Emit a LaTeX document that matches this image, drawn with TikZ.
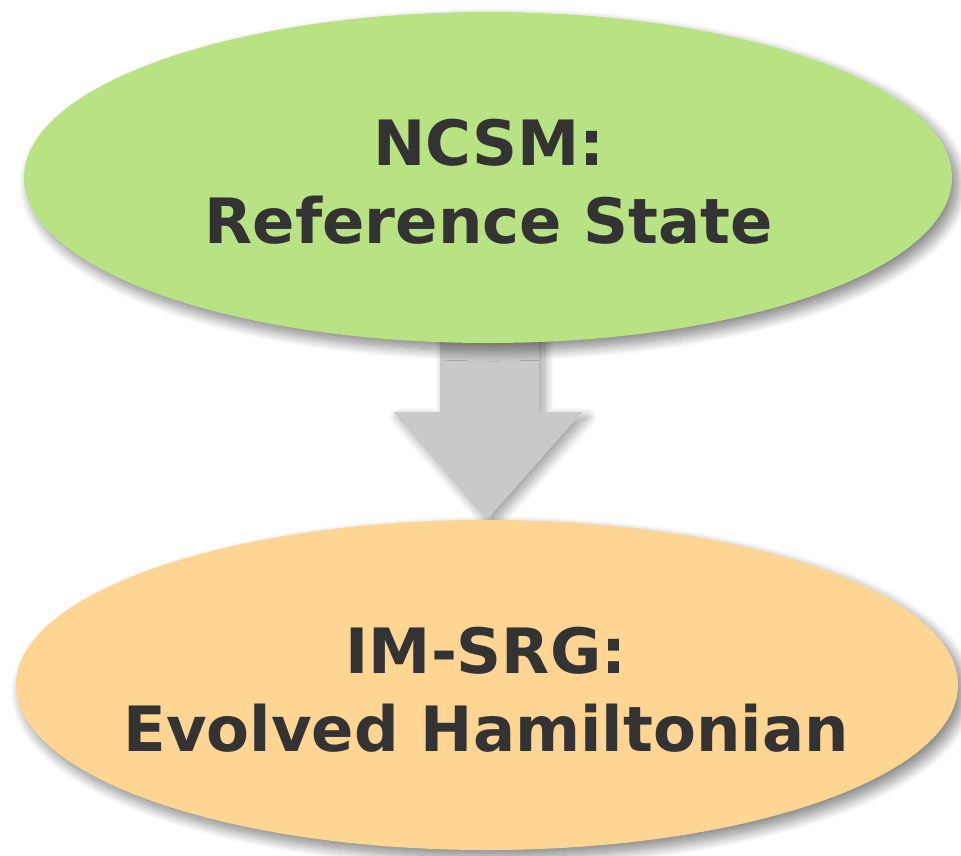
\documentclass[tikz,border=0pt]{standalone}
\usepackage{fontspec}
\setmainfont{DejaVu Sans}
\usetikzlibrary{shapes.geometric,shadows.blur,calc}
\definecolor{topgreen}{HTML}{B9E383}
\definecolor{botorange}{HTML}{FED592}
\definecolor{arrowgrey}{HTML}{C9C9C9}
\definecolor{txt}{HTML}{333333}
\pgfdeclarelayer{background}
\pgfsetlayers{background,main}
\tikzset{
  bubble/.style={ellipse, inner sep=0pt,
    blur shadow={shadow xshift=6pt, shadow yshift=-7pt, shadow blur radius=11pt, shadow blur steps=20, shadow opacity=50}},
  label/.style={align=center, text=txt, inner sep=0pt,
    font=\fontsize{62.5}{78}\selectfont\bfseries},
  blockarrow/.style={fill=arrowgrey,
    blur shadow={shadow xshift=5pt, shadow yshift=-5pt, shadow blur radius=10pt, shadow blur steps=20, shadow opacity=40}}
}
\begin{document}
\begin{tikzpicture}[x=1pt,y=-1pt]
\useasboundingbox (0,0) rectangle (961,855);
\node[bubble, fill=topgreen, minimum width=928pt, minimum height=331pt] (top) at (488,177.5) {};
\node[bubble, fill=botorange, minimum width=942pt, minimum height=330pt] (bot) at (487,685) {};
\node[label] (toptext) at (489,182) {NCSM:\\Reference State};
\node[label] (bottext) at (486,690) {IM-SRG:\\Evolved Hamiltonian};
\begin{pgfonlayer}{background}
\path[blockarrow]
  ($(top.south)+(-48,-20)$) -- ($(top.south)+(51,-20)$) --
  ($(top.south)+(51,69)$) -- ($(top.south)+(94,69)$) --
  (bot.north) --
  ($(top.south)+(-94,69)$) -- ($(top.south)+(-48,69)$) -- cycle;
\end{pgfonlayer}
\end{tikzpicture}
\end{document}
